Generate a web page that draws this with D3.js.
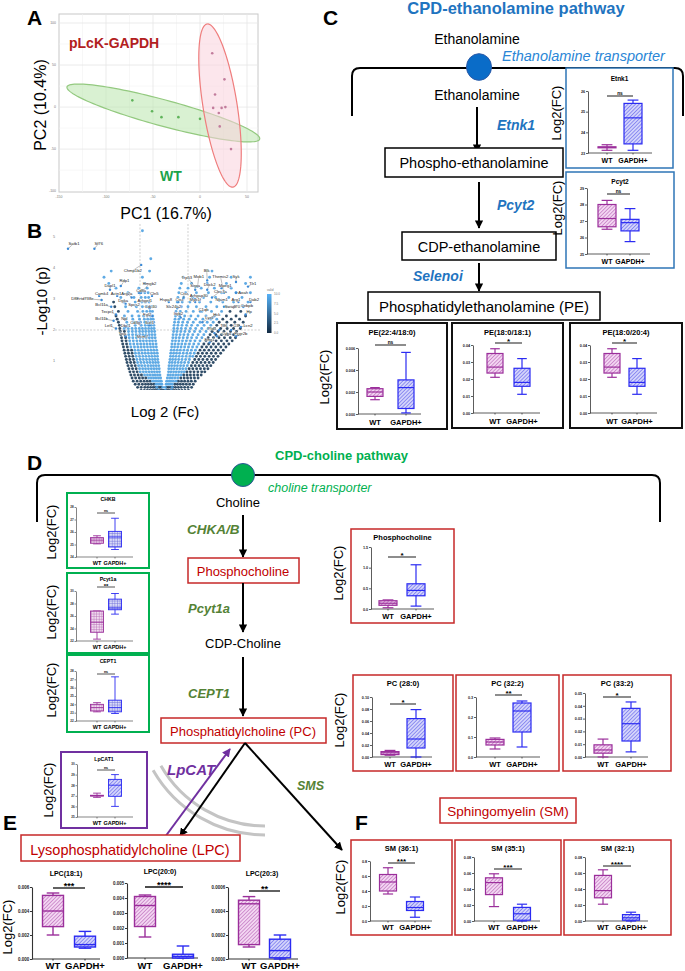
<!DOCTYPE html>
<html>
<head>
<meta charset="utf-8">
<script src="https://cdn.jsdelivr.net/npm/d3@7"></script>
<style>
  body { margin: 0; background: #fff; }
  svg { display: block; }
</style>
</head>
<body>
<svg id="fig" width="685" height="971"></svg>
<script>
// ---------- data ----------
// panel A: PCA scores (PC1, PC2)
const pcaWT = [[-72, 8], [-51, -5], [-41, -12], [-23, -12], [0, -14]]
const pcaGAPDH = [[13, 64], [26, 33], [16, 15], [14, -1], [23, -1], [27, 0], [20, -7], [21, -23], [33, -50]]
// confidence ellipses: centre, half axis 1, half axis 2 (data units)
const ellipseWT = [[-39, -7], [102.5, -31], [-3.6, -15]]
const ellipseGAPDH = [[21.3, 1.8], [-13.8, 97], [17.9, 3.2]]
const pcaXTicks = [-150, -100, -50, 0, 50]
const pcaYTicks = [-100, -50, 0, 50, 100]

// panel B: volcano, rows of [-log10 p, light points (log2 FC), dark points (log2 FC)]
const volcanoRows = [
  [0.05, [-0.22, 0.06, 0.3], [-0.95, -0.82, -0.7, -0.6, -0.5, -0.41, -0.33, -0.25, -0.18, -0.11, -0.04, 0.03, 0.1, 0.17, 0.25, 0.33, 0.42, 0.52, 0.63, 0.75, 0.88, 1.02]],
  [0.15, [-0.3, -0.05, 0.05, 0.34], [-1.1, -0.95, -0.8, -0.68, -0.56, -0.45, -0.36, -0.27, -0.19, -0.12, 0.12, 0.2, 0.29, 0.38, 0.48, 0.6, 0.72, 0.86, 1.0, 1.15]],
  [0.25, [-0.33, -0.24, -0.16, -0.09, 0.09, 0.17, 0.25, 0.34], [-1.2, -1.05, -0.9, -0.77, -0.65, -0.53, -0.42, 0.45, 0.56, 0.68, 0.8, 0.93, 1.07, 1.22]],
  [0.35, [-0.47, -0.37, -0.28, -0.19, -0.11, 0.11, 0.2, 0.29, 0.39, 0.5], [-1.28, -1.12, -0.97, -0.83, -0.7, -0.58, 0.6, 0.73, 0.86, 1.0, 1.14, 1.3]],
  [0.45, [-0.64, -0.53, -0.43, -0.33, -0.23, -0.14, 0.14, 0.24, 0.34, 0.45, 0.57], [-1.33, -1.18, -1.03, -0.89, -0.76, 0.7, 0.84, 0.98, 1.12, 1.27, 1.42]],
  [0.55, [-0.81, -0.69, -0.58, -0.47, -0.37, -0.27, -0.17, 0.17, 0.27, 0.38, 0.49, 0.6, 0.71], [-1.38, -1.23, -1.08, -0.94, 0.82, 0.96, 1.1, 1.25, 1.4, 1.55]],
  [0.65, [-0.99, -0.86, -0.74, -0.62, -0.51, -0.4, -0.29, -0.19, 0.19, 0.29, 0.4, 0.51, 0.62, 0.73, 0.84], [-1.42, -1.27, -1.12, 0.95, 1.1, 1.25, 1.41, 1.57, 1.7]],
  [0.75, [-1.02, -0.89, -0.77, -0.65, -0.53, -0.42, -0.31, -0.2, 0.2, 0.31, 0.42, 0.54, 0.66, 0.78, 0.91], [-1.46, -1.31, -1.16, 1.05, 1.2, 1.36, 1.52, 1.68, 1.83]],
  [0.85, [-1.06, -0.93, -0.8, -0.67, -0.55, -0.44, -0.33, -0.22, 0.21, 0.32, 0.44, 0.56, 0.69, 0.82, 0.97], [-1.5, -1.35, -1.2, 1.14, 1.3, 1.46, 1.62, 1.79, 1.95]],
  [0.95, [-1.1, -0.96, -0.83, -0.7, -0.58, -0.46, -0.35, -0.24, 0.23, 0.34, 0.46, 0.59, 0.72, 0.86, 1.02], [-1.54, -1.39, -1.24, 1.2, 1.37, 1.54, 1.71, 1.88, 2.05]],
  [1.05, [-1.13, -0.99, -0.86, -0.73, -0.6, -0.48, -0.37, -0.26, 0.25, 0.36, 0.48, 0.61, 0.75, 0.9, 1.06], [-1.57, -1.42, -1.27, 1.28, 1.45, 1.62, 1.8, 1.98, 2.15]],
  [1.15, [-1.16, -1.02, -0.88, -0.75, -0.62, -0.5, -0.38, -0.27, 0.27, 0.38, 0.5, 0.63, 0.77, 0.92, 1.08, 1.2], [-1.6, -1.45, -1.3, 1.35, 1.52, 1.7, 1.88, 2.06, 2.25]],
  [1.25, [-1.19, -1.05, -0.91, -0.78, -0.65, -0.52, -0.4, -0.28, 0.28, 0.4, 0.52, 0.65, 0.8, 0.95, 1.1, 1.26], [-1.63, -1.48, -1.33, 1.42, 1.6, 1.78, 1.97, 2.16, 2.36]],
  [1.35, [-1.21, -1.07, -0.93, -0.8, -0.67, -0.54, -0.42, -0.3, 0.3, 0.42, 0.55, 0.68, 0.83, 0.98, 1.14, 1.31], [-1.66, -1.5, -1.35, 1.5, 1.68, 1.87, 2.06, 2.26, 2.47]],
  [1.45, [-1.38, -1.23, -1.09, -0.95, -0.82, -0.69, -0.56, -0.44, -0.32, 0.32, 0.44, 0.57, 0.71, 0.86, 1.02, 1.19, 1.37], [-1.69, -1.53, 1.58, 1.77, 1.96, 2.16, 2.37, 2.58]],
  [1.55, [-1.41, -1.26, -1.11, -0.97, -0.84, -0.71, -0.58, -0.46, -0.33, 0.33, 0.46, 0.6, 0.74, 0.89, 1.06, 1.24, 1.44], [-1.72, -1.56, 1.66, 1.86, 2.06, 2.27, 2.49, 2.7]],
  [1.65, [-1.43, -1.28, -1.13, -0.99, -0.86, -0.73, -0.6, -0.48, -0.35, 0.35, 0.48, 0.62, 0.77, 0.93, 1.1, 1.29, 1.5], [-1.75, -1.58, 1.75, 1.96, 2.17, 2.39, 2.62, 2.84]],
  [1.75, [-1.45, -1.3, -1.15, -1.0, -0.87, -0.74, -0.61, -0.49, -0.37, 0.37, 0.5, 0.64, 0.8, 0.97, 1.15, 1.36, 1.58], [-1.77, -1.6, 1.84, 2.06, 2.29, 2.52, 2.76, 2.98]],
  [1.85, [-1.47, -1.31, -1.16, -1.01, -0.88, -0.75, -0.62, -0.5, -0.38, 0.38, 0.52, 0.67, 0.83, 1.0, 1.2, 1.42, 1.66], [-1.8, -1.63, 1.92, 2.16, 2.4, 2.65, 2.9, 3.1]],
  [1.95, [-1.48, -1.32, -1.17, -1.02, -0.89, -0.76, -0.63, -0.51, -0.39, 0.4, 0.54, 0.7, 0.87, 1.06, 1.27, 1.5, 1.75], [-1.82, -1.65, 2.0, 2.25, 2.5, 2.77, 3.02]],
  [2.05, [-1.66, -1.49, -1.33, -1.18, -1.03, -0.9, -0.77, -0.64, -0.52, -0.41, 0.41, 0.56, 0.72, 0.9, 1.1, 1.32, 1.57, 1.84], [-1.84, 2.1, 2.36, 2.63, 2.9, 3.18]],
  [2.15, [-1.5, -1.2, -0.95, -0.78, -0.65, -0.53, -0.42, 0.42, 0.58, 0.75, 0.94, 1.15, 1.4, 1.67, 1.95], [-1.86, 2.2, 2.5, 2.8, 3.1]],
  [2.25, [-1.55, -1.25, -0.98, -0.8, -0.66, -0.54, -0.43, 0.44, 0.6, 0.78, 0.98, 1.22, 1.5, 1.8, 2.05], [-1.9, 2.3, 2.62, 2.95, 3.3]],
  [2.35, [-1.6, -1.3, -1.02, -0.82, -0.68, -0.55, -0.45, 0.46, 0.62, 0.82, 1.05, 1.32, 1.62, 1.95, 2.2], [-1.95, 2.45, 2.8, 3.15]],
  [2.45, [-1.65, -1.33, -1.05, -0.85, -0.7, -0.57, -0.47, 0.48, 0.65, 0.86, 1.12, 1.42, 1.75, 2.1], [-2.0, 2.6, 3.0, 3.4]],
  [2.6, [-1.5, -1.1, -0.88, -0.72, -0.58, -0.48, 0.5, 0.68, 0.92, 1.22, 1.58, 1.98, 2.4], [-1.9, 2.75, 3.2]],
  [2.75, [-1.6, -1.15, -0.9, -0.74, -0.6, -0.5, 0.52, 0.72, 1.0, 1.35, 1.75, 2.2, 2.6, 3.3], [-2.05, 2.95]],
  [2.9, [-1.7, -1.2, -0.92, -0.76, -0.62, 0.55, 0.76, 1.08, 1.48, 1.95, 2.45, 2.9, 3.5], [-2.1]],
  [3.05, [-1.8, -1.25, -0.95, -0.78, -0.64, 0.58, 0.82, 1.2, 1.65, 2.15, 2.7, 3.25], []],
  [3.2, [-1.5, -1.0, -0.8, -0.66, 0.62, 0.9, 1.35, 1.85, 2.4, 3.0, 3.6], []],
  [3.35, [-2.0, -1.05, -0.7, 0.66, 1.0, 1.55, 2.1, 2.8], []],
  [3.5, [-2.3, -0.8, 0.72, 1.15, 1.8, 2.6, 3.4], []],
  [3.7, [-2.5, -0.9, 0.8, 1.9, 2.8, 3.6], []],
  [3.9, [-2.2, -0.6, 2.0], []],
  [4.3, [-0.55], []],
  [5.2, [-0.9], []]
]
// labelled genes: name, point log2FC, point -log10p, label log2FC, label -log10p
const volcanoLabels = [
  ["Satb1", -4.0, 4.62, -3.75, 4.75], ["Sf76", -2.9, 4.62, -2.72, 4.75],
  ["Chmp1b2", -0.95, 4.1, -1.3, 3.87], ["Rdp1", -1.8, 3.42, -1.65, 3.54],
  ["Hmgb2", -0.95, 3.2, -0.6, 3.46], ["Dapl1", -2.25, 3.3, -2.25, 3.4],
  ["Camk4", -2.7, 3.1, -2.6, 3.14], ["Actn1", -1.95, 3.1, -2.0, 3.14],
  ["Arg2a", -1.35, 3.05, -1.55, 3.14], ["Cd8a", -1.05, 3.2, -0.95, 3.24],
  ["D8Ertd738e", -2.6, 2.97, -3.4, 2.97], ["Dgka", -1.6, 2.85, -1.7, 2.9],
  ["Bcl11a", -2.2, 2.75, -2.6, 2.78], ["Tecpr1", -2.0, 2.5, -2.35, 2.56],
  ["Bcl11b", -2.1, 2.3, -2.6, 2.33], ["Npl", -1.6, 2.35, -1.65, 2.33],
  ["Lef1", -2.0, 2.05, -2.3, 2.1], ["Dbc1", -1.6, 2.1, -1.6, 2.1],
  ["Tox", -1.6, 1.8, -1.75, 1.85], ["Cln5", -0.5, 3.1, -0.4, 3.14],
  ["Spcs2", -1.2, 2.8, -1.25, 2.78], ["Arhgef1", -0.8, 2.9, -0.8, 2.9],
  ["Cdc40", -0.6, 2.7, -0.55, 2.7], ["Fgl2", -0.5, 2.45, -0.7, 2.46],
  ["Cd3g", -1.1, 2.25, -1.2, 2.2], ["Ikzf1", -0.6, 2.15, -0.6, 2.2],
  ["Mcm7", -0.8, 1.8, -0.9, 1.75],
  ["Blk", 1.8, 3.6, 1.78, 3.88], ["Trp53", 1.3, 3.4, 0.95, 3.66],
  ["Mob1", 1.4, 3.4, 1.45, 3.68], ["Themis2", 2.5, 3.2, 2.35, 3.68],
  ["Syk", 3.0, 3.55, 3.0, 3.68], ["Tlr1", 3.5, 3.4, 3.7, 3.45],
  ["Sirpa", 1.3, 3.3, 1.3, 3.4], ["Dock2", 1.8, 3.3, 1.9, 3.42],
  ["Mpeg1", 2.4, 3.35, 2.55, 3.39], ["Aoah", 3.0, 3.2, 3.3, 3.16],
  ["Ctss", 0.8, 3.0, 0.85, 3.13], ["Arhgap30", 1.3, 3.0, 1.45, 3.08],
  ["Clec7a", 2.0, 3.05, 2.35, 3.2], ["Hspa8", 0.2, 2.9, 0.08, 2.92],
  ["Ctsc", 0.6, 2.9, 0.65, 2.92], ["Myo1f", 1.3, 2.9, 1.3, 2.95],
  ["Nfam1", 2.3, 2.95, 2.4, 2.95], ["Arg1", 3.1, 2.9, 3.0, 2.95],
  ["Dab2", 3.6, 2.9, 3.75, 2.95], ["Swap70", 2.5, 2.75, 2.85, 2.72],
  ["Cebpb", 3.3, 2.75, 3.45, 2.75], ["Slc24a2", 0.55, 2.7, 0.4, 2.72],
  ["C1qb", 1.5, 2.6, 1.65, 2.6], ["Itgb2", 0.7, 2.4, 0.6, 2.5],
  ["Lyz2", 1.6, 2.25, 1.9, 2.35], ["Hck", 2.0, 2.4, 2.2, 2.45],
  ["Hp", 3.4, 2.5, 3.55, 2.55], ["Tlr6", 2.3, 2.0, 2.5, 2.1],
  ["C3", 2.8, 2.0, 3.0, 2.1], ["Lcn2", 3.2, 2.1, 3.5, 2.1],
  ["Fcgr2b", 3.0, 1.8, 3.2, 1.85], ["Cyba", 2.2, 1.8, 2.6, 1.85],
  ["Emr1", 1.9, 1.6, 1.9, 1.65], ["Pld4", 2.1, 1.9, 2.0, 2.0]
]
const volcanoYTicks = [1, 2, 3, 4, 5]
const legendTicks = [0, 2.5, 5, 7.5, 10]

// box plots: [min, q1, median, q3, max]
const boxGroups = ["WT", "GAPDH+"]
const etnk1WT = [23.13, 23.25, 23.27, 23.3, 23.4]
const etnk1GAPDH = [23.13, 23.44, 24.7, 25.4, 25.56]
const etnk1Ticks = [23, 24, 25, 26]
const pcyt2WT = [26.5, 26.65, 27.15, 28.0, 28.25]
const pcyt2GAPDH = [25.75, 26.4, 26.9, 27.1, 27.75]
const pcyt2Ticks = [25, 26, 27, 28, 29]
const pe1WT = [0.0013, 0.0016, 0.002, 0.0023, 0.0024]
const pe1GAPDH = [0.0001, 0.0005, 0.0024, 0.0031, 0.0056]
const pe1Ticks = [0, 0.002, 0.004, 0.006]
const pe2WT = [0.021, 0.0235, 0.027, 0.035, 0.0378]
const pe2GAPDH = [0.011, 0.0157, 0.018, 0.0263, 0.032]
const pe3WT = [0.021, 0.0235, 0.027, 0.035, 0.0378]
const pe3GAPDH = [0.011, 0.0157, 0.018, 0.0263, 0.032]
const peTicks = [0, 0.01, 0.02, 0.03, 0.04]
const chkbWT = [25.05, 25.1, 25.35, 25.55, 25.7]
const chkbGAPDH = [24.6, 24.8, 25.6, 26.05, 27.1]
const chkbTicks = [24, 25, 26, 27, 28]
const pcyt1aWT = [22.3, 23.4, 25.0, 26.8, 26.8]
const pcyt1aGAPDH = [26.3, 27.0, 27.3, 28.7, 29.6]
const pcyt1aTicks = [22, 24, 26, 28, 30]
const cept1WT = [23.1, 23.2, 23.6, 24.0, 24.2]
const cept1GAPDH = [22.9, 23.1, 23.6, 24.5, 27.3]
const cept1Ticks = [22, 23, 24, 25, 26, 27, 28]
const lpcat1WT = [26.85, 26.98, 27.0, 27.05, 27.25]
const lpcat1GAPDH = [26.0, 26.95, 28.0, 28.55, 29.0]
const lpcat1Ticks = [25, 26, 27, 28, 29, 30]
const phosphocholineWT = [0.03, 0.09, 0.14, 0.2, 0.22]
const phosphocholineGAPDH = [0.07, 0.32, 0.45, 0.61, 1.07]
const phosphocholineTicks = [0, 0.5, 1.0, 1.5]
const pc280WT = [0.003, 0.004, 0.007, 0.009, 0.011]
const pc280GAPDH = [0.0, 0.015, 0.03, 0.064, 0.079]
const pc280Ticks = [0, 0.02, 0.04, 0.06, 0.08, 0.10]
const pc322WT = [0.04, 0.06, 0.075, 0.088, 0.095]
const pc322GAPDH = [0.05, 0.125, 0.23, 0.27, 0.28]
const pc322Ticks = [0, 0.1, 0.2, 0.3]
const pc332WT = [0.0, 0.003, 0.0055, 0.0095, 0.014]
const pc332GAPDH = [0.004, 0.0125, 0.026, 0.038, 0.043]
const pc332Ticks = [0, 0.01, 0.02, 0.03, 0.04, 0.05]
const sm361WT = [0.36, 0.40, 0.52, 0.62, 0.71]
const sm361GAPDH = [0.05, 0.14, 0.18, 0.26, 0.32]
const sm361Ticks = [0, 0.2, 0.4, 0.6, 0.8]
const sm351WT = [0.018, 0.033, 0.048, 0.054, 0.059]
const sm351GAPDH = [0.0, 0.001, 0.009, 0.017, 0.021]
const sm321WT = [0.021, 0.029, 0.038, 0.057, 0.064]
const sm321GAPDH = [0.0, 0.001, 0.004, 0.008, 0.011]
const smTicks = [0, 0.02, 0.04, 0.06, 0.08]
const lpc181WT = [0.002, 0.0027, 0.004, 0.0053, 0.0055]
const lpc181GAPDH = [0.0009, 0.001, 0.0012, 0.0019, 0.0023]
const lpc181Ticks = [0, 0.002, 0.004, 0.006]
const lpc200WT = [0.0014, 0.0021, 0.0035, 0.0041, 0.0042]
const lpc200GAPDH = [0.0, 0.0, 0.0001, 0.00025, 0.0008]
const lpc200Ticks = [0, 0.001, 0.002, 0.003, 0.004, 0.005]
const lpc203WT = [0.0001, 0.00012, 0.00046, 0.00049, 0.00052]
const lpc203GAPDH = [0.0, 0.00001, 0.00007, 0.000165, 0.0002]
const lpc203Ticks = [0, 0.0002, 0.0004, 0.0006]

// ---------- setup ----------
const FONT = '"Liberation Sans", Arial, Helvetica, sans-serif'
const WT_COL = '#9b2f9b'
const GP_COL = '#2b2bf2'
const RED = '#c00000'
const OLIVE = '#548235'
const BLUE = '#1f74c0'
const GREEN = '#00b050'
const PURPLE = '#7030a0'

const svg = d3.select('#fig').attr('font-family', FONT)
svg.append('rect').attr('width', 685).attr('height', 971).attr('fill', '#fff')
const defs = svg.append('defs')

function hatch(id, bg, fg, cross) {
  const s = 2.6
  const p = defs.append('pattern').attr('id', id)
    .attr('patternUnits', 'userSpaceOnUse').attr('width', s).attr('height', s)
  if (!cross) p.attr('patternTransform', 'rotate(45)')
  p.append('rect').attr('width', s).attr('height', s).attr('fill', bg)
  p.append('line').attr('x1', 0).attr('y1', 0).attr('x2', 0).attr('y2', s)
    .attr('stroke', fg).attr('stroke-width', 0.9)
  if (cross) p.append('line').attr('x1', 0).attr('y1', 0).attr('x2', s).attr('y2', 0)
    .attr('stroke', fg).attr('stroke-width', 0.9)
}
hatch('hWT', '#f3d6f2', '#a53ea4', false)
hatch('hGP', '#d3d4fb', '#3b3be6', false)
hatch('xWT', '#f0dbef', '#b469b3', true)
hatch('xGP', '#d9daf8', '#6a6ad8', true)

function marker(id, col) {
  defs.append('marker').attr('id', id).attr('viewBox', '0 0 10 10')
    .attr('refX', 9).attr('refY', 5).attr('markerWidth', 4.2).attr('markerHeight', 4.2)
    .attr('orient', 'auto')
    .append('path').attr('d', 'M0,0 L10,5 L0,10 z').attr('fill', col)
}
marker('arr', '#000')
marker('arrP', PURPLE)

function txt(x, y, s, opt = {}) {
  const t = svg.append('text').attr('x', x).attr('y', y).text(s)
    .attr('font-size', opt.size || 13)
    .attr('fill', opt.fill || '#000')
    .attr('text-anchor', opt.anchor || 'start')
  if (opt.bold) t.attr('font-weight', 'bold')
  if (opt.italic) t.attr('font-style', 'italic')
  if (opt.rotate) t.attr('transform', `rotate(-90,${x},${y})`)
  return t
}
function arrow(x1, y1, x2, y2, col = '#000', id = 'arr') {
  svg.append('line').attr('x1', x1).attr('y1', y1).attr('x2', x2).attr('y2', y2)
    .attr('stroke', col).attr('stroke-width', 2).attr('marker-end', `url(#${id})`)
}
function box(x, y, w, h, col, sw = 1.5) {
  svg.append('rect').attr('x', x).attr('y', y).attr('width', w).attr('height', h)
    .attr('fill', '#fff').attr('stroke', col).attr('stroke-width', sw)
}

// panel letters
;[['A', 27, 25], ['B', 27, 238], ['C', 323, 25], ['D', 27, 470], ['E', 3, 830], ['F', 355, 830]]
  .forEach(([l, x, y]) => txt(x, y, l, { size: 21, bold: true }))

// ---------- panel A: PCA ----------
const pcaX = d3.scaleLinear().domain([-150, 61.7]).range([59, 258])
const pcaY = d3.scaleLinear().domain([-101, 110.7]).range([192, 14])
const gA = svg.append('g')
gA.append('rect').attr('x', 59).attr('y', 14).attr('width', 199).attr('height', 178)
  .attr('fill', '#fff').attr('stroke', '#c8c8c8').attr('stroke-width', 1)
const minorX = pcaXTicks.map(d => d + 25).filter(d => d < 61)
const minorY = pcaYTicks.map(d => d + 25).filter(d => d < 110)
gA.selectAll('line.mx').data(minorX).join('line')
  .attr('x1', d => pcaX(d)).attr('x2', d => pcaX(d)).attr('y1', 14).attr('y2', 192)
  .attr('stroke', '#f2f2f2').attr('stroke-width', 0.6)
gA.selectAll('line.my').data(minorY).join('line')
  .attr('y1', d => pcaY(d)).attr('y2', d => pcaY(d)).attr('x1', 59).attr('x2', 258)
  .attr('stroke', '#f2f2f2').attr('stroke-width', 0.6)
gA.selectAll('line.gx').data(pcaXTicks.slice(1)).join('line')
  .attr('x1', d => pcaX(d)).attr('x2', d => pcaX(d)).attr('y1', 14).attr('y2', 192)
  .attr('stroke', '#e6e6e6').attr('stroke-width', 0.8)
gA.selectAll('line.gy').data(pcaYTicks.slice(1)).join('line')
  .attr('y1', d => pcaY(d)).attr('y2', d => pcaY(d)).attr('x1', 59).attr('x2', 258)
  .attr('stroke', '#e6e6e6').attr('stroke-width', 0.8)
gA.selectAll('text.tx').data(pcaXTicks).join('text')
  .attr('x', d => pcaX(d)).attr('y', 197.5).attr('text-anchor', 'middle')
  .attr('font-size', 3.5).attr('fill', '#777').text(d => d)
gA.selectAll('text.ty').data(pcaYTicks).join('text')
  .attr('x', 56).attr('y', d => pcaY(d) + 1).attr('text-anchor', 'end')
  .attr('font-size', 3.5).attr('fill', '#777').text(d => d)

function ellipse(e, fill, stroke) {
  const [c, u, v] = e
  const pts = d3.range(0, 2 * Math.PI + 0.05, 0.05)
    .map(t => [c[0] + u[0] * Math.cos(t) + v[0] * Math.sin(t), c[1] + u[1] * Math.cos(t) + v[1] * Math.sin(t)])
  gA.append('path').attr('d', d3.line().x(d => pcaX(d[0])).y(d => pcaY(d[1]))(pts) + 'Z')
    .attr('fill', fill).attr('fill-opacity', 0.55).attr('stroke', stroke).attr('stroke-width', 1.2)
}
ellipse(ellipseWT, '#b9e6ad', '#93c97f')
ellipse(ellipseGAPDH, '#fad2dc', '#ef7d7d')
gA.selectAll('circle.wt').data(pcaWT).join('circle')
  .attr('cx', d => pcaX(d[0])).attr('cy', d => pcaY(d[1])).attr('r', 1.3).attr('fill', '#5fb35a')
gA.selectAll('circle.gp').data(pcaGAPDH).join('circle')
  .attr('cx', d => pcaX(d[0])).attr('cy', d => pcaY(d[1])).attr('r', 1.3).attr('fill', '#c27c9c')
txt(69, 48, 'pLcK-GAPDH', { size: 14, bold: true, fill: '#b22020' })
txt(160, 181, 'WT', { size: 14, bold: true, fill: '#1aa34a' })
txt(166, 219, 'PC1 (16.7%)', { size: 16, anchor: 'middle' })
txt(46, 105, 'PC2 (10.4%)', { size: 16, anchor: 'middle', rotate: true })

// ---------- panel B: volcano ----------
const vx = d3.scaleLinear().domain([-4, 4]).range([68, 260])
const vy = d3.scaleLinear().domain([0, 5]).range([392, 237])
const vCol = d3.scaleLinear().domain([0, 10]).range(['#132B43', '#56B1F7'])
const gB = svg.append('g')
defs.append('clipPath').attr('id', 'clipB').append('rect')
  .attr('x', 55).attr('y', 222).attr('width', 205).attr('height', 168)
const gBc = gB.append('g').attr('clip-path', 'url(#clipB)')
gBc.append('line').attr('x1', 55).attr('x2', 260).attr('y1', vy(2)).attr('y2', vy(2))
  .attr('stroke', '#bbb').attr('stroke-width', 0.7).attr('stroke-dasharray', '2,1.5')
;[-1, 1].forEach(v => gBc.append('line').attr('x1', vx(v)).attr('x2', vx(v)).attr('y1', 224).attr('y2', 392)
  .attr('stroke', '#bbb').attr('stroke-width', 0.7).attr('stroke-dasharray', '2,1.5'))
const volcanoPts = []
volcanoRows.forEach(([p, light, dark]) => {
  dark.forEach(x => volcanoPts.push([x, p, 1.2]))
  light.forEach(x => volcanoPts.push([x, p, 8.8]))
})
gBc.selectAll('circle.v').data(volcanoPts).join('circle')
  .attr('cx', d => vx(d[0])).attr('cy', d => vy(d[1])).attr('r', 1.45)
  .attr('fill', d => vCol(d[2])).attr('opacity', 0.9)
gB.selectAll('line.lead').data(volcanoLabels).join('line')
  .attr('x1', d => vx(d[1])).attr('y1', d => vy(d[2]))
  .attr('x2', d => vx(d[3])).attr('y2', d => vy(d[4]) - 1.5)
  .attr('stroke', '#444').attr('stroke-width', 0.35)
gB.selectAll('circle.lp').data(volcanoLabels).join('circle')
  .attr('cx', d => vx(d[1])).attr('cy', d => vy(d[2])).attr('r', 1.2).attr('fill', '#3c8ad6')
gB.selectAll('text.lab').data(volcanoLabels).join('text')
  .attr('x', d => vx(d[3])).attr('y', d => vy(d[4])).attr('text-anchor', 'middle')
  .attr('font-size', 4.2).attr('fill', '#222')
  .attr('paint-order', 'stroke').attr('stroke', '#fff').attr('stroke-width', 0.6)
  .text(d => d[0])
gB.selectAll('text.vt').data(volcanoYTicks).join('text')
  .attr('x', 55).attr('y', d => vy(d) + 1.3).attr('text-anchor', 'end')
  .attr('font-size', 3.8).attr('fill', '#777').text(d => d)
txt(165, 417, 'Log 2 (Fc)', { size: 15, anchor: 'middle' })
txt(47, 301, '-Log10 (p)', { size: 15, anchor: 'middle', rotate: true })
// colour bar
const grad = defs.append('linearGradient').attr('id', 'vgrad').attr('x1', 0).attr('x2', 0).attr('y1', 1).attr('y2', 0)
legendTicks.forEach(t => grad.append('stop').attr('offset', t / 10).attr('stop-color', vCol(t)))
const ly = d3.scaleLinear().domain([0, 10]).range([333, 294])
gB.append('rect').attr('x', 267).attr('y', 294).attr('width', 4.5).attr('height', 39).attr('fill', 'url(#vgrad)')
gB.selectAll('text.lg').data(legendTicks).join('text')
  .attr('x', 274).attr('y', d => ly(d) + 1).attr('font-size', 3).attr('fill', '#777')
  .text(d => d3.format('.1f')(d))
txt(267, 291, 'valid', { size: 3.2, fill: '#777' })

// ---------- pathway C ----------
txt(516, 14, 'CPD-ethanolamine pathway', { size: 16.5, bold: true, fill: BLUE, anchor: 'middle' })
txt(477, 44, 'Ethanolamine', { size: 14, anchor: 'middle' })
svg.append('path').attr('d', 'M352,116 L352,76 Q352,68 360,68 L675,68 Q683,68 683,76 L683,116')
  .attr('fill', 'none').attr('stroke', '#000').attr('stroke-width', 2)
svg.append('ellipse').attr('cx', 479).attr('cy', 67).attr('rx', 12.5).attr('ry', 13.3)
  .attr('fill', '#0a6cc8').attr('stroke', '#2b5aa8').attr('stroke-width', 1)
txt(502, 61, 'Ethanolamine transporter', { size: 14.5, italic: true, fill: '#2a86d6' })
txt(477, 100, 'Ethanolamine', { size: 14, anchor: 'middle' })
arrow(477, 107, 477, 152)
txt(497, 130, 'Etnk1', { size: 14, bold: true, italic: true, fill: BLUE })
box(385, 148, 178, 29, '#000', 1.5)
txt(474, 168, 'Phospho-ethanolamine', { size: 14.5, anchor: 'middle' })
arrow(479, 182, 479, 228)
txt(497, 210, 'Pcyt2', { size: 14, bold: true, italic: true, fill: BLUE })
box(402, 232, 154, 28, '#000', 1.5)
txt(479, 252, 'CDP-ethanolamine', { size: 14.5, anchor: 'middle' })
arrow(479, 263, 479, 291)
txt(413, 281, 'Selenoi', { size: 14, bold: true, italic: true, fill: BLUE })
box(368, 292, 232, 28, '#000', 1.5)
txt(484, 312, 'Phosphatidylethanolamine  (PE)', { size: 15, anchor: 'middle' })

// ---------- pathway D ----------
txt(275, 460, 'CPD-choline pathway', { size: 13, bold: true, fill: GREEN })
svg.append('path').attr('d', 'M37,522 L37,483 Q37,475 45,475 L652,475 Q660,475 660,483 L660,522')
  .attr('fill', 'none').attr('stroke', '#000').attr('stroke-width', 2)
svg.append('ellipse').attr('cx', 243).attr('cy', 475).attr('rx', 11.5).attr('ry', 11.5)
  .attr('fill', GREEN).attr('stroke', '#2e5597').attr('stroke-width', 1)
txt(268, 492, 'choline transporter', { size: 12.5, italic: true, fill: GREEN })
txt(238, 507, 'Choline', { size: 13, anchor: 'middle' })
arrow(243, 515, 243, 557)
txt(187, 534, 'CHKA/B', { size: 13.5, bold: true, italic: true, fill: OLIVE })
box(188, 558, 111, 25, '#c62828', 1.5)
txt(243, 576, 'Phosphocholine', { size: 13, anchor: 'middle', fill: RED })
arrow(243, 583, 243, 632)
txt(188, 613, 'Pcyt1a', { size: 13, bold: true, italic: true, fill: OLIVE })
txt(243, 648, 'CDP-Choline', { size: 13, anchor: 'middle' })
arrow(243, 657, 243, 716)
txt(188, 698, 'CEPT1', { size: 13, bold: true, italic: true, fill: OLIVE })
box(161, 718, 165, 25, '#c62828', 1.5)
txt(243, 736, 'Phosphatidylcholine (PC)', { size: 13, anchor: 'middle', fill: RED })
// membrane arcs
;[129, 120].forEach(r => {
  const a0 = Math.PI, a1 = Math.PI + 1.05
  svg.append('path').attr('transform', 'translate(265,706)')
    .attr('d', d3.arc()({ innerRadius: r, outerRadius: r, startAngle: a0, endAngle: a1 }))
    .attr('fill', 'none').attr('stroke', '#c4c4c4').attr('stroke-width', 3)
})
arrow(245, 743, 180, 836)
arrow(245, 743, 342, 850)
arrow(165, 837, 230, 749, PURPLE, 'arrP')
txt(167, 775, 'LpCAT', { size: 15, bold: true, italic: true, fill: PURPLE })
txt(297, 790, 'SMS', { size: 12.5, bold: true, italic: true, fill: OLIVE })
box(21, 835, 219, 26, '#c62828', 1.5)
txt(130, 855, 'Lysophosphatidylcholine (LPC)', { size: 14.5, anchor: 'middle', fill: RED })
box(440, 798, 136, 25, '#c62828', 1.5)
txt(508, 816, 'Sphingomyelin (SM)', { size: 13.5, anchor: 'middle', fill: RED })

// ---------- box plots ----------
function boxChart(c) {
  const g = svg.append('g')
  if (c.frame) g.append('rect').attr('x', c.frame[0]).attr('y', c.frame[1])
    .attr('width', c.frame[2]).attr('height', c.frame[3])
    .attr('fill', '#fff').attr('stroke', c.stroke).attr('stroke-width', c.sw)
  const y = d3.scaleLinear().domain(d3.extent(c.ticks)).range([c.y0, c.y1])
  const x = d3.scaleOrdinal().domain(boxGroups).range([c.x0, c.x1])
  const lw = c.lw || 0.8
  const ax = g.append('g').attr('transform', `translate(${c.ax},0)`)
    .call(d3.axisLeft(y).tickValues(c.ticks).tickFormat(d3.format(c.fmt))
      .tickSize(c.kt || 2).tickSizeOuter(0).tickPadding(0.8))
  ax.attr('font-size', c.kfs).attr('font-family', FONT).attr('font-weight', 'bold')
  ax.selectAll('path,line').attr('stroke', '#333').attr('stroke-width', lw)
  ax.selectAll('text').attr('fill', '#222')
  g.append('line').attr('x1', c.ax).attr('x2', c.xEnd).attr('y1', c.y0).attr('y2', c.y0)
    .attr('stroke', '#333').attr('stroke-width', lw)
  g.selectAll('line.xt').data(boxGroups).join('line')
    .attr('x1', d => x(d)).attr('x2', d => x(d)).attr('y1', c.y0).attr('y2', c.y0 + 1.5)
    .attr('stroke', '#333').attr('stroke-width', lw)
  g.selectAll('text.xl').data(boxGroups).join('text')
    .attr('x', d => x(d)).attr('y', c.labY).attr('text-anchor', 'middle')
    .attr('font-size', c.lfs).attr('font-weight', 'bold').text(d => d)
  const series = [[boxGroups[0], c.wt, WT_COL, c.cross ? 'xWT' : 'hWT'],
                  [boxGroups[1], c.gp, GP_COL, c.cross ? 'xGP' : 'hGP']]
  const bsw = c.bsw || 1.2
  series.forEach(([k, s, col, pat]) => {
    const cx = x(k), hw = c.bw, cap = c.bw * 0.6
    g.append('line').attr('x1', cx).attr('x2', cx).attr('y1', y(s[0])).attr('y2', y(s[4]))
      .attr('stroke', col).attr('stroke-width', bsw)
    ;[s[0], s[4]].forEach(v => g.append('line').attr('x1', cx - cap).attr('x2', cx + cap)
      .attr('y1', y(v)).attr('y2', y(v)).attr('stroke', col).attr('stroke-width', bsw))
    g.append('rect').attr('x', cx - hw).attr('y', y(s[3])).attr('width', 2 * hw)
      .attr('height', Math.max(0.8, y(s[1]) - y(s[3])))
      .attr('fill', `url(#${pat})`).attr('stroke', col).attr('stroke-width', bsw)
    g.append('line').attr('x1', cx - hw).attr('x2', cx + hw).attr('y1', y(s[2])).attr('y2', y(s[2]))
      .attr('stroke', col).attr('stroke-width', bsw)
  })
  const tx = c.frame ? c.frame[0] + c.frame[2] / 2 : (c.x0 + c.x1) / 2 - 1
  g.append('text').attr('x', c.titleX || tx).attr('y', c.titleY).attr('text-anchor', 'middle')
    .attr('font-size', c.tfs).attr('font-weight', 'bold').text(c.title)
  g.append('line').attr('x1', c.x0).attr('x2', c.x1).attr('y1', c.sigY).attr('y2', c.sigY)
    .attr('stroke', '#111').attr('stroke-width', lw * 1.2)
  const star = c.sig !== 'ns'
  g.append('text').attr('x', (c.x0 + c.x1) / 2).attr('y', c.sigY - (star ? -1.2 : 1.5))
    .attr('text-anchor', 'middle').attr('font-size', star ? c.sfs : c.sfs * 0.6)
    .attr('font-weight', 'bold').text(c.sig)
  if (c.ylab) txt(c.ylab[0], c.ylab[1], 'Log2(FC)', { size: 13, anchor: 'middle', rotate: true })
}

const small = { bw: 6.5, kfs: 3, lfs: 5.5, tfs: 5.2, sfs: 6, lw: 0.6, bsw: 0.9, kt: 1.5 }
const mid = { bw: 8, kfs: 3.8, lfs: 7.5, tfs: 7.5, sfs: 8, lw: 0.8, bsw: 1.2 }

const boxCharts = [
  { ...mid, title: 'Etnk1', wt: etnk1WT, gp: etnk1GAPDH, ticks: etnk1Ticks, fmt: 'd', sig: 'ns',
    frame: [566, 68, 107, 100], stroke: '#2e75b6', sw: 1.5, ax: 588, x0: 607, x1: 633, xEnd: 652,
    y0: 153, y1: 91, titleY: 81, labY: 163, sigY: 96, tfs: 6.5, lfs: 7, ylab: [561, 113], bw: 9 },
  { ...mid, title: 'Pcyt2', wt: pcyt2WT, gp: pcyt2GAPDH, ticks: pcyt2Ticks, fmt: 'd', sig: 'ns',
    frame: [566, 172, 108, 96], stroke: '#2e75b6', sw: 1.5, ax: 587, x0: 607, x1: 630, xEnd: 650,
    y0: 254, y1: 188, titleY: 184, labY: 264, sigY: 194, tfs: 6.5, lfs: 7, ylab: [562, 208], bw: 9 },
  { ...mid, title: 'PE(22:4/18:0)', wt: pe1WT, gp: pe1GAPDH, ticks: pe1Ticks, fmt: '.3f', sig: 'ns',
    frame: [337, 323, 110, 106], stroke: '#111', sw: 2, ax: 358, x0: 375, x1: 406, xEnd: 421,
    y0: 414, y1: 348, titleY: 335, labY: 425, sigY: 345, ylab: [329, 377] },
  { ...mid, title: 'PE(18:0/18:1)', wt: pe2WT, gp: pe2GAPDH, ticks: peTicks, fmt: '.2f', sig: '*',
    frame: [452, 323, 111, 105], stroke: '#111', sw: 2, ax: 473, x0: 495, x1: 522, xEnd: 540,
    y0: 413, y1: 345, titleY: 335, labY: 424, sigY: 343 },
  { ...mid, title: 'PE(18:0/20:4)', wt: pe3WT, gp: pe3GAPDH, ticks: peTicks, fmt: '.2f', sig: '*',
    frame: [570, 323, 112, 105], stroke: '#111', sw: 2, ax: 590, x0: 612, x1: 637, xEnd: 657,
    y0: 413, y1: 345, titleY: 335, labY: 424, sigY: 343 },
  { ...small, title: 'CHKB', wt: chkbWT, gp: chkbGAPDH, ticks: chkbTicks, fmt: 'd', sig: 'ns', cross: true,
    frame: [67, 493, 82, 75], stroke: GREEN, sw: 2, ax: 76, x0: 97, x1: 115, xEnd: 133,
    y0: 557, y1: 507, titleY: 501, labY: 565, sigY: 513, ylab: [56, 532] },
  { ...small, title: 'Pcyt1a', wt: pcyt1aWT, gp: pcyt1aGAPDH, ticks: pcyt1aTicks, fmt: 'd', sig: '**', cross: true,
    frame: [67, 573, 82, 80], stroke: GREEN, sw: 2, ax: 76, x0: 97, x1: 115, xEnd: 133,
    y0: 641, y1: 591, titleY: 581, labY: 649, sigY: 587, ylab: [56, 612] },
  { ...small, title: 'CEPT1', wt: cept1WT, gp: cept1GAPDH, ticks: cept1Ticks, fmt: 'd', sig: 'ns', cross: true,
    frame: [67, 655, 82, 77], stroke: GREEN, sw: 2, ax: 76, x0: 97, x1: 115, xEnd: 133,
    y0: 721, y1: 671, titleY: 663, labY: 729, sigY: 674, ylab: [56, 690] },
  { ...small, title: 'LpCAT1', wt: lpcat1WT, gp: lpcat1GAPDH, ticks: lpcat1Ticks, fmt: 'd', sig: 'ns',
    frame: [61, 752, 86, 76], stroke: PURPLE, sw: 2, ax: 77, x0: 97, x1: 115, xEnd: 133,
    y0: 817, y1: 764, titleY: 761, labY: 825, sigY: 770, ylab: [53, 790] },
  { ...mid, title: 'Phosphocholine', wt: phosphocholineWT, gp: phosphocholineGAPDH, ticks: phosphocholineTicks,
    fmt: '.1f', sig: '*', frame: [351, 529, 103, 94], stroke: '#c62828', sw: 1.5, ax: 371, x0: 388, x1: 416,
    xEnd: 434, y0: 609, y1: 547, titleY: 540, labY: 619, sigY: 557, ylab: [343, 573], bw: 9 },
  { ...mid, title: 'PC (28:0)', wt: pc280WT, gp: pc280GAPDH, ticks: pc280Ticks, fmt: '.2f', sig: '*',
    frame: [353, 675, 100, 96], stroke: '#c62828', sw: 1.5, ax: 372, x0: 390, x1: 416, xEnd: 432,
    y0: 757, y1: 697, titleY: 686, labY: 767, sigY: 704, ylab: [344, 720], bw: 9 },
  { ...mid, title: 'PC (32:2)', wt: pc322WT, gp: pc322GAPDH, ticks: pc322Ticks, fmt: '.1f', sig: '**',
    frame: [456, 675, 103, 96], stroke: '#c62828', sw: 1.5, ax: 476, x0: 495, x1: 522, xEnd: 540,
    y0: 757, y1: 697, titleY: 686, labY: 767, sigY: 695, bw: 9 },
  { ...mid, title: 'PC (33:2)', wt: pc332WT, gp: pc332GAPDH, ticks: pc332Ticks, fmt: '.2f', sig: '*',
    frame: [563, 675, 108, 96], stroke: '#c62828', sw: 1.5, ax: 585, x0: 603, x1: 631, xEnd: 648,
    y0: 757, y1: 693, titleY: 686, labY: 767, sigY: 697, bw: 9 },
  { ...mid, title: 'SM (36:1)', wt: sm361WT, gp: sm361GAPDH, ticks: sm361Ticks, fmt: '.1f', sig: '***',
    frame: [351, 840, 101, 95], stroke: '#c62828', sw: 1.5, ax: 370, x0: 388, x1: 415, xEnd: 432,
    y0: 921, y1: 861, titleY: 851, labY: 930, sigY: 863, ylab: [345, 887], bw: 8.5 },
  { ...mid, title: 'SM (35:1)', wt: sm351WT, gp: sm351GAPDH, ticks: smTicks, fmt: '.2f', sig: '***',
    frame: [455, 840, 106, 95], stroke: '#c62828', sw: 1.5, ax: 474, x0: 494, x1: 522, xEnd: 540,
    y0: 921, y1: 857, titleY: 851, labY: 930, sigY: 869, bw: 8.5 },
  { ...mid, title: 'SM (32:1)', wt: sm321WT, gp: sm321GAPDH, ticks: smTicks, fmt: '.2f', sig: '****',
    frame: [564, 840, 107, 95], stroke: '#c62828', sw: 1.5, ax: 585, x0: 603, x1: 631, xEnd: 648,
    y0: 921, y1: 857, titleY: 851, labY: 930, sigY: 866, bw: 8.5 },
  { ...mid, title: 'LPC(18:1)', wt: lpc181WT, gp: lpc181GAPDH, ticks: lpc181Ticks, fmt: '.3f', sig: '***',
    ax: 32, x0: 53, x1: 85, xEnd: 100, y0: 959, y1: 887, titleY: 876, titleX: 66, labY: 969, sigY: 888,
    bw: 10.5, kfs: 4.5, lfs: 9.5, tfs: 7, sfs: 9, lw: 1.1, bsw: 1.4 },
  { ...mid, title: 'LPC(20:0)', wt: lpc200WT, gp: lpc200GAPDH, ticks: lpc200Ticks, fmt: '.3f', sig: '****',
    ax: 127, x0: 145, x1: 183, xEnd: 198, y0: 958, y1: 883, titleY: 874, titleX: 160, labY: 969, sigY: 887,
    bw: 10.5, kfs: 4.5, lfs: 9.5, tfs: 7, sfs: 9, lw: 1.1, bsw: 1.4 },
  { ...mid, title: 'LPC(20:3)', wt: lpc203WT, gp: lpc203GAPDH, ticks: lpc203Ticks, fmt: '.4f', sig: '**',
    ax: 228, x0: 249, x1: 280, xEnd: 298, y0: 959, y1: 887, titleY: 876, titleX: 262, labY: 969, sigY: 891,
    bw: 10.5, kfs: 4.5, lfs: 9.5, tfs: 7, sfs: 9, lw: 1.1, bsw: 1.4 }
]
boxCharts.forEach(boxChart)
txt(12, 927, 'Log2(FC)', { size: 13, anchor: 'middle', rotate: true })
</script>
</body>
</html>
